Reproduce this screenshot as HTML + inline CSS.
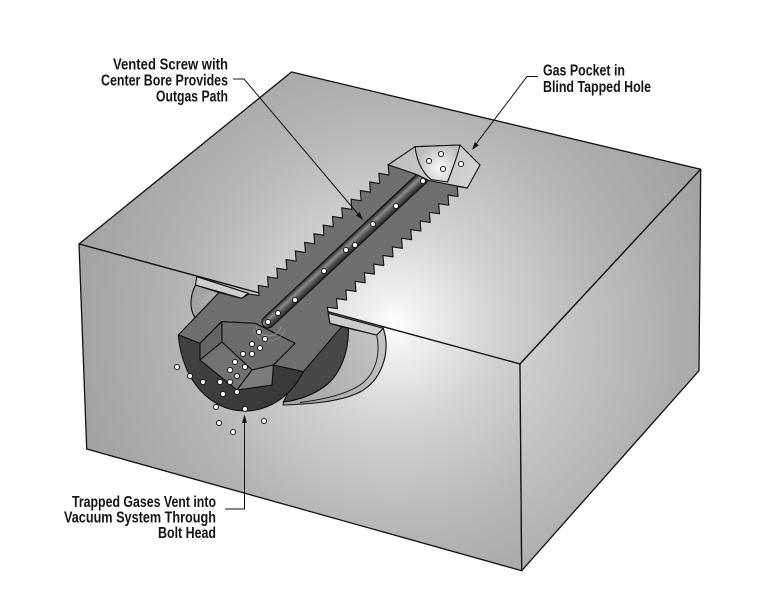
<!DOCTYPE html>
<html><head><meta charset="utf-8"><style>
html,body{margin:0;padding:0;background:#fff;}
svg{display:block;}
.t{font-family:"Liberation Sans Narrow","Liberation Sans",Arial,sans-serif;font-size:15.5px;font-weight:bold;fill:#151515;}
</style></head><body>
<svg width="780" height="612" viewBox="0 0 780 612" xmlns="http://www.w3.org/2000/svg">
<defs>
<radialGradient id="gT" gradientUnits="userSpaceOnUse" cx="395" cy="325" r="330">
<stop offset="0" stop-color="#ffffff"/>
<stop offset="0.07" stop-color="#f2f2f3"/>
<stop offset="0.3" stop-color="#d3d3d5"/>
<stop offset="0.65" stop-color="#b4b4b6"/>
<stop offset="1" stop-color="#a1a1a3"/>
</radialGradient>
<radialGradient id="gR" gradientUnits="userSpaceOnUse" cx="430" cy="340" r="320">
<stop offset="0" stop-color="#e6e6e8"/>
<stop offset="0.35" stop-color="#cacacc"/>
<stop offset="0.75" stop-color="#afafb1"/>
<stop offset="1" stop-color="#a0a0a2"/>
</radialGradient>
<linearGradient id="gBore" gradientUnits="userSpaceOnUse" x1="263.9" y1="317.6" x2="272.1" y2="326.4">
<stop offset="0" stop-color="#2e2e2e"/>
<stop offset="0.35" stop-color="#8c8c8c"/>
<stop offset="0.65" stop-color="#555"/>
<stop offset="1" stop-color="#262626"/>
</linearGradient>
<radialGradient id="gPk" gradientUnits="userSpaceOnUse" cx="440" cy="168" r="24">
<stop offset="0" stop-color="#fafafa"/>
<stop offset="1" stop-color="#bdbdbd"/>
</radialGradient>
<linearGradient id="gPo" gradientUnits="userSpaceOnUse" x1="390" y1="150" x2="480" y2="185">
<stop offset="0" stop-color="#bdbdbd"/>
<stop offset="1" stop-color="#d4d4d4"/>
</linearGradient>
<linearGradient id="gLc" gradientUnits="userSpaceOnUse" x1="190" y1="290" x2="225" y2="300">
<stop offset="0" stop-color="#9c9c9c"/>
<stop offset="1" stop-color="#b8b8b8"/>
</linearGradient>
<linearGradient id="gRc" gradientUnits="userSpaceOnUse" x1="300" y1="400" x2="385" y2="340">
<stop offset="0" stop-color="#a8a8a8"/>
<stop offset="1" stop-color="#c4c4c4"/>
</linearGradient>
<linearGradient id="gDisc" gradientUnits="userSpaceOnUse" x1="180" y1="340" x2="300" y2="410">
<stop offset="0" stop-color="#424242"/>
<stop offset="1" stop-color="#363636"/>
</linearGradient>
</defs>

<rect width="780" height="612" fill="#fff"/>

<!-- block faces -->
<g stroke="#111" stroke-width="1.3" stroke-linejoin="round">
<path d="M79,244 L291.5,72 L700.7,169.3 L520,364 Z" fill="url(#gT)"/>
<path d="M79,244 L520,364 L521.7,570.7 L86.7,449 Z" fill="url(#gT)"/>
<path d="M520,364 L700.7,169.3 L699,370.7 L521.7,570.7 Z" fill="url(#gR)"/>
</g>

<g stroke="#111" stroke-width="1.1" stroke-linejoin="round">
<!-- left counterbore -->
<path d="M195.5,285 C189.5,297 189.5,309 195,317.6 L219,292.6 Z" fill="url(#gLc)"/>
<!-- right counterbore -->
<path d="M348.3,328.3 L376.7,335 L383.3,328.3 C391,352 382,380 360,392 C340,402 310,404 283.3,405 L283.3,402 C298,400 313,395 325,386 C340,375 349,352 348.3,328.3 Z" fill="url(#gRc)"/>
<path d="M376.7,335 C381,355 375,375 360,385 C345,395 320,400 300,402.5" fill="none" stroke-width="0.9"/>
<!-- dark side face -->
<path d="M303.3,371.7 L341.7,326.7 L348.3,328.3 C349,352 340,375 325,386 C313,395 298,400 283.3,402 L289,391 Z" fill="#474747"/>

<!-- gas pocket -->
<path d="M388,165 L415,146.7 L460,145 L480,165 L467.3,188 L428.5,180.5 L416.5,174.5 Z" fill="url(#gPo)"/>
<path d="M415,146.7 C417,162 423,173 431,179.5 L447.5,182 C452,170 457,158 460,145 Z" fill="url(#gPk)"/>

<!-- screw body (threads + head cut face) -->
<path fill="#6f6f6f" d="M178.3,335 L219,292.6 L241.7,298.3 L248.96,294.07
L259.05,295.62 L258.24,285.45 L268.33,287.00 L267.52,276.82 L277.61,278.38 L276.80,268.20
L286.89,269.76 L286.08,259.58 L296.17,261.14 L295.36,250.96 L305.45,252.52 L304.65,242.33
L314.73,243.90 L313.93,233.71 L324.01,235.28 L323.21,225.09 L333.29,226.66 L332.49,216.46
L342.57,218.04 L341.77,207.84 L351.85,209.42 L351.05,199.22 L361.13,200.80 L360.33,190.59
L370.41,192.18 L369.61,181.97 L379.69,183.56 L378.89,173.35 L388.97,174.94 L388.17,164.72
L416.5,174.5 L428.5,180.5 L467.31,188.02
L457.22,186.47 L458.03,196.64 L447.94,195.09 L448.75,205.26 L438.66,203.71 L439.47,213.88
L429.38,212.33 L430.19,222.50 L420.10,220.95 L420.91,231.12 L410.82,229.57 L411.63,239.74
L401.54,238.19 L402.35,248.36 L392.26,246.81 L393.07,256.98 L382.98,255.43 L383.79,265.60
L373.70,264.05 L374.51,274.22 L364.42,272.67 L365.23,282.84 L355.14,281.29 L355.95,291.46
L345.86,289.91 L346.67,300.08 L336.58,298.53 L337.39,308.70 L327.30,307.15
L328.3,313.3 L330,323.3 L341.7,326.7 L303.3,371.7 L273.3,365 L295,343.3 L255,323.3 L221.7,321.7 L200,343.3 Z"/>

<!-- slabs -->
<path d="M196.7,276.7 L248.3,293.3 L241.7,298.3 L195.5,285 Z" fill="#cfcfcf"/>
<path d="M328.3,313.3 L383.3,328.3 L376.7,335 L330,323.3 Z" fill="#cdcdcd"/>

<!-- dark front disc of head -->
<path d="M178.3,335 L200,343.3 L200,360 L237,390 L272,385 L273.3,365 L303.3,371.7 C292,395 270,411 245,411 C210,411 182,380 178.3,335 Z" fill="url(#gDisc)"/>

<!-- hex socket -->
<path d="M221.7,321.7 L255,323.3 L295,343.3 L273.3,365 L252,370 L222,342 Z" fill="#6c6c6c"/>
<path d="M200,343.3 L221.7,321.7 L222,342 L200,360 Z" fill="#646464"/>
<path d="M200,360 L222,342 L252,370 L237,390 Z" fill="#727272"/>
<path d="M237,390 L252,370 L273.3,365 L272,385 Z" fill="#7c7c7c"/>
</g>

<!-- rings around bore base -->
<path d="M256,326 A13,13 0 0 0 281,327" fill="none" stroke="#9a9a9a" stroke-width="0.9"/>
<path d="M253,329 A17,17 0 0 0 285,330" fill="none" stroke="#8a8a8a" stroke-width="0.8"/>

<!-- center bore -->
<path d="M263.9,317.6 L416.5,174.5 L428.5,180.5 L272.1,326.4 A6,6 0 0 1 263.9,317.6 Z" fill="url(#gBore)" stroke="#111" stroke-width="1.1" stroke-linejoin="round"/>

<!-- gas bubbles -->
<g fill="#fff" stroke="#111" stroke-width="0.9">
<circle cx="396" cy="206" r="2.6"/><circle cx="373" cy="224" r="2.6"/><circle cx="355" cy="245" r="2.6"/>
<circle cx="346" cy="250" r="2.6"/><circle cx="324" cy="271" r="2.6"/><circle cx="295" cy="300" r="2.6"/>
<circle cx="278" cy="313" r="2.6"/><circle cx="268" cy="322" r="2.6"/>
<circle cx="429" cy="161" r="2.6"/><circle cx="441" cy="154" r="2.6"/><circle cx="443" cy="169" r="2.6"/>
<circle cx="461" cy="164" r="2.6"/><circle cx="423" cy="181" r="2.6"/>
<circle cx="259" cy="332" r="2.6"/><circle cx="265" cy="339" r="2.6"/><circle cx="252" cy="344" r="2.6"/>
<circle cx="260" cy="348" r="2.6"/><circle cx="243" cy="354" r="2.6"/><circle cx="252" cy="354" r="2.6"/>
<circle cx="235" cy="362" r="2.6"/><circle cx="245" cy="367" r="2.6"/><circle cx="230" cy="370" r="2.6"/>
<circle cx="237" cy="376" r="2.6"/><circle cx="220" cy="382" r="2.6"/><circle cx="230" cy="382" r="2.6"/>
<circle cx="237" cy="392" r="2.6"/><circle cx="223" cy="394" r="2.6"/><circle cx="203" cy="382" r="2.6"/>
<circle cx="190" cy="376" r="2.6"/><circle cx="177" cy="367" r="2.6"/><circle cx="216" cy="407" r="2.6"/>
<circle cx="245" cy="409" r="2.6"/><circle cx="264" cy="421" r="2.6"/><circle cx="219" cy="423" r="2.6"/>
<circle cx="233" cy="432" r="2.6"/>
</g>

<!-- leaders -->
<g fill="none" stroke="#111" stroke-width="1">
<polyline points="233,79 244,79 358,214"/>
<polyline points="538,76.5 527,76.5 476,144"/>
<polyline points="225,509 244.5,509 244.5,422"/>
</g>
<g fill="#111" stroke="none">
<polygon points="363,220 355.9,215.5 359.8,212.3"/>
<polygon points="472,150 478.8,145.1 474.8,142.1"/>
<polygon points="244.5,414.5 242,423 247,423"/>
</g>

<!-- labels -->
<text class="t" x="113" y="69.5" textLength="115" lengthAdjust="spacingAndGlyphs">Vented Screw with</text>
<text class="t" x="101" y="85.5" textLength="127" lengthAdjust="spacingAndGlyphs">Center Bore Provides</text>
<text class="t" x="156" y="101.5" textLength="72" lengthAdjust="spacingAndGlyphs">Outgas Path</text>

<text class="t" x="543" y="75.5" textLength="82" lengthAdjust="spacingAndGlyphs">Gas Pocket in</text>
<text class="t" x="543" y="92" textLength="108" lengthAdjust="spacingAndGlyphs">Blind Tapped Hole</text>

<text class="t" x="72" y="507" textLength="144" lengthAdjust="spacingAndGlyphs">Trapped Gases Vent into</text>
<text class="t" x="64" y="522.5" textLength="152" lengthAdjust="spacingAndGlyphs">Vacuum System Through</text>
<text class="t" x="158" y="538" textLength="58" lengthAdjust="spacingAndGlyphs">Bolt Head</text>
</svg>
</body></html>
